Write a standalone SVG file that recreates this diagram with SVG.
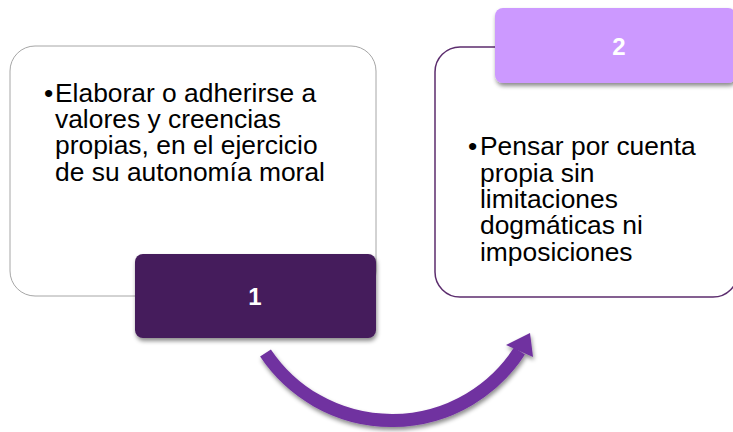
<svg xmlns="http://www.w3.org/2000/svg" width="733" height="432" viewBox="0 0 733 432">
<defs>
<filter id="sh" x="-20%" y="-20%" width="140%" height="160%">
<feDropShadow dx="1" dy="3" stdDeviation="2" flood-color="#000" flood-opacity="0.45"/>
</filter>
<style>
.body{font-family:"Liberation Sans",Arial,sans-serif;font-size:26.4px;fill:#000}
.num{font-family:"Liberation Sans",Arial,sans-serif;font-size:24px;font-weight:bold;fill:#fff;text-anchor:middle}
</style>
</defs>
<rect width="733" height="432" fill="#fff"/>
<g id="node1">
<rect x="10" y="46" width="366" height="250" rx="25" ry="25" fill="#fff" stroke="#a6a6a6" stroke-width="1"/>
<text class="body"><tspan x="44" y="101.7">•</tspan><tspan x="55" y="101.7">Elaborar o adherirse a</tspan><tspan x="55" y="128">valores y creencias</tspan><tspan x="55" y="154.3">propias, en el ejercicio</tspan><tspan x="55" y="180.6">de su autonomía moral</tspan></text>
</g>
<g id="label1">
<rect x="135" y="254" width="241" height="84" rx="8" ry="8" fill="#451b5b" filter="url(#sh)"/>
<text class="num" x="255" y="305">1</text>
</g>
<g id="node2">
<rect x="435" y="47" width="303" height="250" rx="25" ry="25" fill="#fff" stroke="#5c2d6e" stroke-width="1.5"/>
<text class="body"><tspan x="468" y="155.3">•</tspan><tspan x="480" y="155.3">Pensar por cuenta</tspan><tspan x="480" y="181.6">propia sin</tspan><tspan x="480" y="207.9">limitaciones</tspan><tspan x="480" y="234.2">dogmáticas ni</tspan><tspan x="480" y="260.5">imposiciones</tspan></text>
</g>
<g id="label2">
<rect x="495" y="8" width="241" height="75" rx="8" ry="8" fill="#cc99ff" filter="url(#sh)"/>
<text class="num" x="619" y="55">2</text>
</g>
<g id="connectors" filter="url(#sh)">
<path d="M 265.5 353 A 152 152 0 0 0 519.5 351" fill="none" stroke="#7030a0" stroke-width="13"/>
<polygon points="530,333 506,345 533,357" fill="#7030a0"/>
</g>
</svg>
